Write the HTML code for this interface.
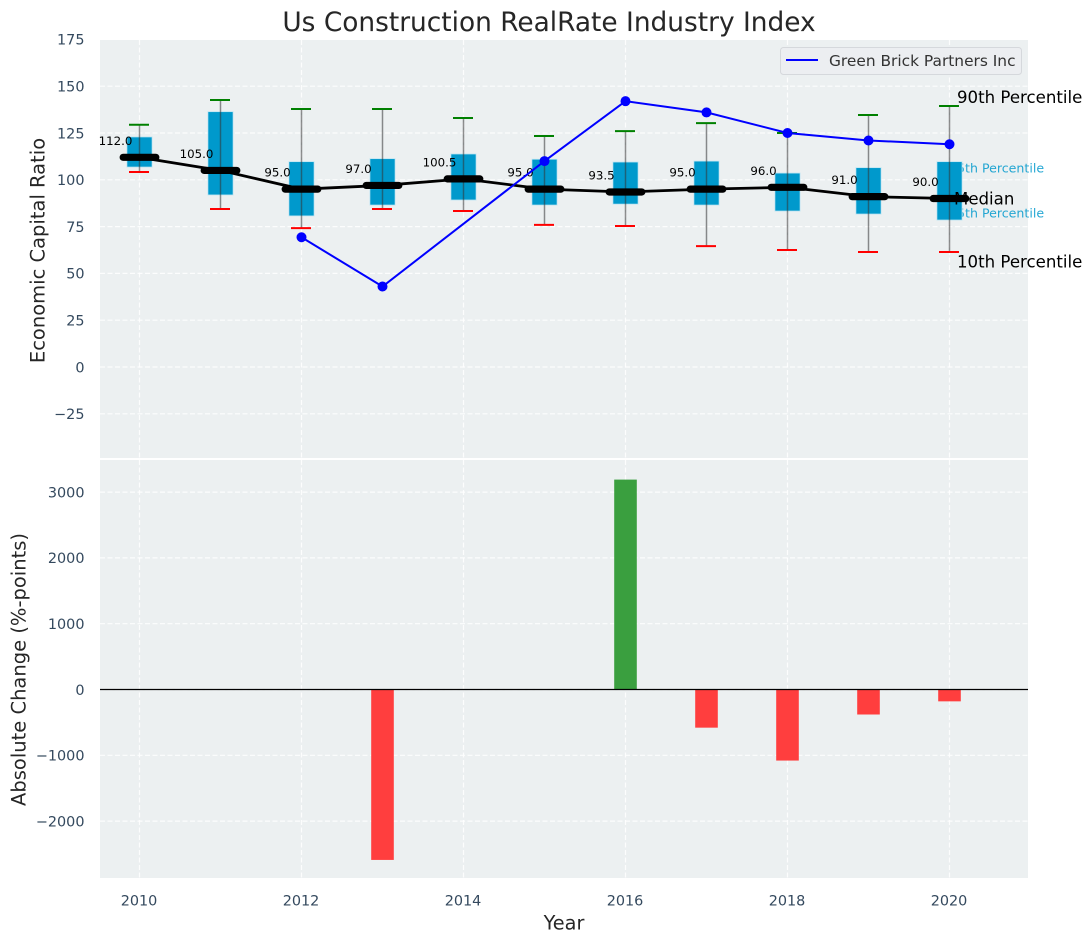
<!DOCTYPE html>
<html>
<head>
<meta charset="utf-8">
<title>Us Construction RealRate Industry Index</title>
<style>
html,body{margin:0;padding:0;background:#fff;}
svg{display:block;font-family:"DejaVu Sans","Liberation Sans",sans-serif;}
</style>
</head>
<body>
<svg id="chart" xmlns="http://www.w3.org/2000/svg" width="1092" height="942" viewBox="0 0 1092 942"></svg>
<script>
const years = [2010,2011,2012,2013,2014,2015,2016,2017,2018,2019,2020];
const medians = [112,105,95,97,100.5,95,93.5,95,96,91,90];
const medianLabels = ["112.0","105.0","95.0","97.0","100.5","95.0","93.5","95.0","96.0","91.0","90.0"];
const p75 = [122.9,136.4,109.7,111.3,113.8,111,109.5,110,103.6,106.5,109.7];
const p25 = [106.8,91.9,80.7,86.5,89.2,86.5,87,86.5,83.3,81.7,78.5];
const p90 = [129.4,142.6,137.8,137.8,133,123.4,126,130.3,125,134.6,139.4];
const p10 = [104.2,84.4,74.2,84.4,83.3,75.9,75.3,64.6,62.5,61.4,61.4];
const companyYears = [2012,2013,2015,2016,2017,2018,2019,2020];
const companyValues = [69.3,43,110,142,136,125,121,119];
const changeYears = [2013,2016,2017,2018,2019,2020];
const changeValues = [-2590,3190,-580,-1080,-380,-180];
const topTicks = [175,150,125,100,75,50,25,0,-25];
const bottomTicks = [3000,2000,1000,0,-1000,-2000];
const xTicks = [2010,2012,2014,2016,2018,2020];

const svg = document.getElementById('chart');
const NS = 'http://www.w3.org/2000/svg';
const L = 100, R = 1028, T1 = 40, B1 = 458, T2 = 460, B2 = 878;
function X(y){ return 139.5 + (y - 2010) * 81; }
function Y1(v){ return 367 - v * 1.872; }
function Y2(v){ return 689.5 - v * 0.0658; }
function make(tag, attrs, text){
  const el = document.createElementNS(NS, tag);
  for (const k in attrs) el.setAttribute(k, attrs[k]);
  if (text !== undefined) el.textContent = text;
  svg.appendChild(el);
  return el;
}
function label(el, name){
  
  
  return el;
}

/* panels */
label(make('rect',{x:L,y:T1,width:R-L,height:B1-T1,fill:'#ecf0f1'}),'top-panel-background');
label(make('rect',{x:L,y:T2,width:R-L,height:B2-T2,fill:'#ecf0f1'}),'bottom-panel-background');

/* grid */
const gridStyle = {stroke:'#ffffff','stroke-width':1.2,'stroke-dasharray':'5 2.5','stroke-opacity':0.85};
xTicks.forEach(t => {
  label(make('line',Object.assign({x1:X(t),x2:X(t),y1:T1,y2:B1},gridStyle)),'top-grid-x-'+t);
  label(make('line',Object.assign({x1:X(t),x2:X(t),y1:T2,y2:B2},gridStyle)),'bottom-grid-x-'+t);
});
topTicks.forEach(t => {
  label(make('line',Object.assign({x1:L,x2:R,y1:Y1(t),y2:Y1(t)},gridStyle)),'top-grid-y-'+t);
});
bottomTicks.forEach(t => {
  label(make('line',Object.assign({x1:L,x2:R,y1:Y2(t),y2:Y2(t)},gridStyle)),'bottom-grid-y-'+t);
});

/* tick labels */
const tickColor = '#34495e';
topTicks.forEach(t => {
  label(make('text',{x:84.5,y:Y1(t)+5.3,'text-anchor':'end','font-size':14.4,fill:tickColor},String(t).replace('-','\u2212')),'top-y-tick-'+t);
});
bottomTicks.forEach(t => {
  label(make('text',{x:84.5,y:Y2(t)+5.3,'text-anchor':'end','font-size':14.4,fill:tickColor},String(t).replace('-','\u2212')),'bottom-y-tick-'+t);
});
xTicks.forEach(t => {
  label(make('text',{x:X(t)-0.5,y:905.5,'text-anchor':'middle','font-size':14.4,fill:tickColor},String(t)),'x-tick-'+t);
});

/* annotation text drawn beneath the boxes */
label(make('text',{x:949,y:172.5,'font-size':12.6,fill:'#0099cc','fill-opacity':0.85},'75th Percentile'),'p75-annotation');
label(make('text',{x:949,y:217.5,'font-size':12.6,fill:'#0099cc','fill-opacity':0.85},'25th Percentile'),'p25-annotation');

/* boxes and whiskers */
years.forEach((yr,i) => {
  const x = X(yr);
  const hw = 12.6;
  label(make('rect',{x:x-hw,y:Y1(p75[i]),width:hw*2,height:Y1(p25[i])-Y1(p75[i]),fill:'#0099cc',stroke:'#bfe5f2','stroke-width':0.8}),'box-'+yr);
  label(make('line',{x1:x,x2:x,y1:Y1(p90[i]),y2:Y1(p10[i]),stroke:'#333','stroke-opacity':0.55,'stroke-width':1.5}),'whisker-'+yr);
  label(make('line',{x1:x-10.5,x2:x+9.5,y1:Y1(p90[i]),y2:Y1(p90[i]),stroke:'#008000','stroke-width':2}),'p90-cap-'+yr);
  label(make('line',{x1:x-10.5,x2:x+9.5,y1:Y1(p10[i]),y2:Y1(p10[i]),stroke:'#ff0000','stroke-width':2}),'p10-cap-'+yr);
});

/* median line */
label(make('polyline',{points:years.map((yr,i)=>X(yr)+','+Y1(medians[i])).join(' '),fill:'none',stroke:'#000','stroke-width':2.8}),'median-line');
years.forEach((yr,i) => {
  label(make('line',{x1:X(yr)-16.3,x2:X(yr)+16.3,y1:Y1(medians[i]),y2:Y1(medians[i]),stroke:'#000','stroke-width':7.2,'stroke-linecap':'round'}),'median-marker-'+yr);
  label(make('text',{x:X(yr)-24,y:Y1(medians[i])-12.5,'text-anchor':'middle','font-size':11.8,fill:'#000'},medianLabels[i]),'median-label-'+yr);
});

/* company line */
label(make('polyline',{points:companyYears.map((yr,i)=>X(yr)+','+Y1(companyValues[i])).join(' '),fill:'none',stroke:'#0000ff','stroke-width':2}),'company-line');
companyYears.forEach((yr,i) => {
  label(make('circle',{cx:X(yr),cy:Y1(companyValues[i]),r:5,fill:'#0000ff'}),'company-point-'+yr);
});

/* annotations */
label(make('text',{x:957,y:103,'font-size':16.6,fill:'#000'},'90th Percentile'),'p90-annotation');
label(make('text',{x:954,y:204.5,'font-size':16.6,fill:'#000'},'Median'),'median-annotation');
label(make('text',{x:957,y:267.5,'font-size':16.6,fill:'#000'},'10th Percentile'),'p10-annotation');

/* legend */
const legendBox = make('rect',{x:780.5,y:47.5,width:241,height:27,rx:3,fill:'#eceef1',stroke:'#d5d8dc','stroke-width':1});


label(make('line',{x1:786,x2:818,y1:60,y2:60,stroke:'#0000ff','stroke-width':2}),'legend-line');
label(make('text',{x:829,y:66,'font-size':15.4,fill:'#333'},'Green Brick Partners Inc'),'legend-label');

/* change bars */
changeYears.forEach((yr,i) => {
  const v = changeValues[i];
  const y0 = Y2(0), y1 = Y2(v);
  label(make('rect',{x:X(yr)-11.3,y:Math.min(y0,y1),width:22.6,height:Math.abs(y1-y0),fill:v>=0?'#3a9f3f':'#ff3e3e'}),'change-bar-'+yr);
});
label(make('line',{x1:L,x2:R,y1:Y2(0),y2:Y2(0),stroke:'#000','stroke-width':1.3}),'zero-line');

/* titles */
label(make('text',{x:549,y:31,'text-anchor':'middle','font-size':26.4,fill:'#262626'},'Us Construction RealRate Industry Index'),'chart-title');
label(make('text',{x:564,y:929.5,'text-anchor':'middle','font-size':19.3,fill:'#262626'},'Year'),'x-axis-title');
label(make('text',{transform:'translate(44.5,250.5) rotate(-90)','text-anchor':'middle','font-size':19.5,fill:'#262626'},'Economic Capital Ratio'),'top-y-axis-title');
label(make('text',{transform:'translate(25.5,669.5) rotate(-90)','text-anchor':'middle','font-size':19.5,fill:'#262626'},'Absolute Change (%-points)'),'bottom-y-axis-title');
</script>
</body>
</html>
